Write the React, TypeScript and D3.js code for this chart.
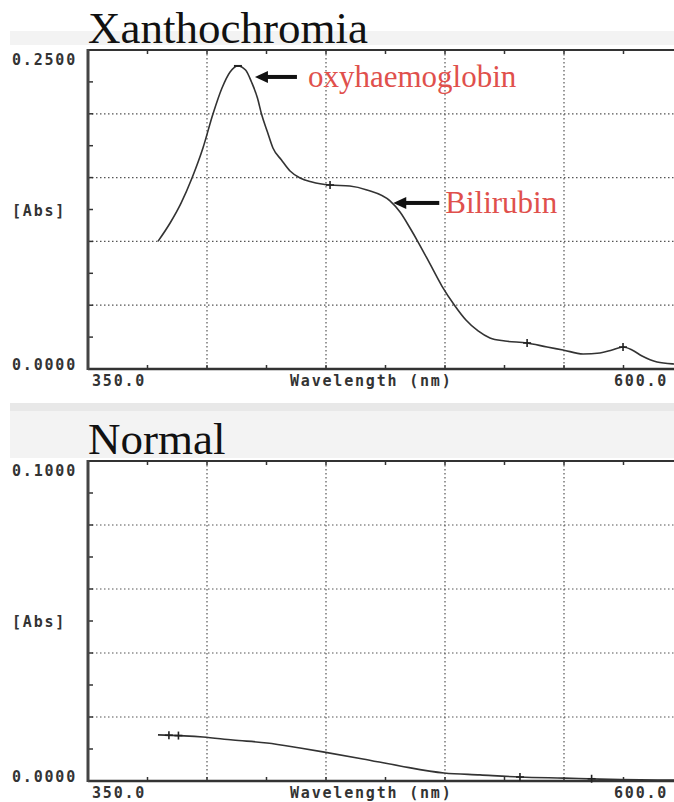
import React from "react";
import * as d3 from "d3";

// ---- data ----
const xanthWavelength = [379.4, 384.5, 389.1, 393.7, 398.3, 402.5, 406.3, 409.7, 413, 416.2, 418.7, 421.2, 422.9, 425.4, 427.7, 431.3, 434.9, 439.1, 444.1, 451.7, 460, 467.2, 476.9, 481.1, 485.3, 488.7, 493.7, 498.7, 504.2, 508.8, 513.9, 518.9, 525.2, 534.5, 542.9, 549.6, 558, 565.1, 570.2, 574.8, 578.6, 582.8, 589.1, 596.2, 600];
const xanthAbs = [0.1, 0.1144, 0.13, 0.1497, 0.1732, 0.1998, 0.2202, 0.2328, 0.2375, 0.2343, 0.2249, 0.2124, 0.1998, 0.1857, 0.1732, 0.1638, 0.1552, 0.1497, 0.1466, 0.1442, 0.1434, 0.1403, 0.1317, 0.123, 0.1105, 0.0995, 0.0823, 0.065, 0.0494, 0.0384, 0.0298, 0.0243, 0.0219, 0.0204, 0.0172, 0.0149, 0.0118, 0.0125, 0.0149, 0.0172, 0.0149, 0.0102, 0.0055, 0.0039, 0.0036];
const xanthMarkWl = [451.7, 534.5, 574.8];
const xanthMarkAbs = [0.1442, 0.0204, 0.0172];

const normalWavelength = [379.4, 398.3, 410.9, 425.2, 439.1, 448.7, 465.5, 481.1, 499.6, 514.7, 531.5, 550, 565.1, 596.2, 600];
const normalAbs = [0.0144, 0.01375, 0.0128, 0.0119, 0.0103, 0.0091, 0.0069, 0.0047, 0.0025, 0.0019, 0.00125, 0.0009, 0.0006, 0.0003, 0.0003];
const normalMarkWl = [384, 388, 531.5, 561.6];
const normalMarkAbs = [0.0143, 0.0142, 0.00125, 0.0007];

const xDomain = [350, 600];
const xTickLabels = ["350.0", "600.0"];
const xTitle = "Wavelength (nm)";
const yTitle = "[Abs]";
const topYDomain = [0, 0.25];
const topYLabels = ["0.0000", "0.2500"];
const botYDomain = [0, 0.1];
const botYLabels = ["0.0000", "0.1000"];
const titles = ["Xanthochromia", "Normal"];
const annotations = ["oxyhaemoglobin", "Bilirubin"];
const annotationWl = [413, 477];
const annotationAbs = [0.2375, 0.1317];

const MONO = "'DejaVu Sans Mono', monospace";
const SERIF = "'Liberation Serif', 'Times New Roman', serif";

function Panel({ top, bottom, yDomain, yLabels, wl, abs, markWl, markAbs, title, children }: any) {
  const x = d3.scaleLinear().domain(xDomain).range([88, 683]);
  const y = d3.scaleLinear().domain(yDomain).range([bottom, top]);
  const xGrid = d3.range(400, 600, 50);
  const xMinor = d3.range(350, 601, 25);
  const step = (yDomain[1] - yDomain[0]) / 5;
  const yGrid = d3.range(1, 5).map((i) => yDomain[0] + i * step);
  const yMinor = d3.range(0, 11).map((i) => yDomain[0] + (i * step) / 2);
  const line = d3
    .line<number>()
    .x((_, i) => x(wl[i]))
    .y((d) => y(d))
    .curve(d3.curveMonotoneX);
  const lblStyle: any = { fontFamily: MONO, fontWeight: "bold", fontSize: 15, letterSpacing: 1.8, fill: "#333" };
  return (
    <g>
      <text x={88} y={top - 7} fontFamily={SERIF} fontSize={45} fill="#111">{title}</text>
      {xGrid.map((v: number) => (
        <line key={"gx" + v} x1={x(v)} x2={x(v)} y1={top} y2={bottom} stroke="#555" strokeWidth={1.2} strokeDasharray="1.5 2.5" />
      ))}
      {yGrid.map((v: number) => (
        <line key={"gy" + v} x1={88} x2={674} y1={y(v)} y2={y(v)} stroke="#555" strokeWidth={1.2} strokeDasharray="1.5 2.5" />
      ))}
      {xMinor.map((v: number) => (
        <g key={"tx" + v}>
          <line x1={x(v)} x2={x(v)} y1={bottom} y2={bottom - 4} stroke="#333" strokeWidth={1.5} />
          <line x1={x(v)} x2={x(v)} y1={top} y2={top + 4} stroke="#333" strokeWidth={1.5} />
        </g>
      ))}
      {yMinor.map((v: number) => (
        <line key={"ty" + v} x1={88} x2={93} y1={y(v)} y2={y(v)} stroke="#333" strokeWidth={1.5} />
      ))}
      <line x1={88} x2={674} y1={top} y2={top} stroke="#333" strokeWidth={2} />
      <line x1={88} x2={674} y1={bottom} y2={bottom} stroke="#333" strokeWidth={2.5} />
      <line x1={88} x2={88} y1={top - 1} y2={bottom + 1} stroke="#444" strokeWidth={3} />
      <path d={line(abs) || ""} fill="none" stroke="#333" strokeWidth={1.6} />
      {markWl.map((w: number, i: number) => (
        <g key={"m" + i} stroke="#222" strokeWidth={1.6}>
          <line x1={x(w) - 4} x2={x(w) + 4} y1={y(markAbs[i])} y2={y(markAbs[i])} />
          <line x1={x(w)} x2={x(w)} y1={y(markAbs[i]) - 4} y2={y(markAbs[i]) + 4} />
        </g>
      ))}
      <text x={12} y={top + 15} style={lblStyle}>{yLabels[1]}</text>
      <text x={12} y={(top + bottom) / 2 + 6} style={lblStyle}>{yTitle}</text>
      <text x={12} y={bottom + 1} style={lblStyle}>{yLabels[0]}</text>
      <text x={92} y={bottom + 17} style={lblStyle}>{xTickLabels[0]}</text>
      <text x={290} y={bottom + 17} style={lblStyle}>{xTitle}</text>
      <text x={614} y={bottom + 17} style={lblStyle}>{xTickLabels[1]}</text>
      {children && children(x, y)}
    </g>
  );
}

function Arrow({ tipX, tipY, len }: any) {
  const head = 13;
  return (
    <g fill="#111">
      <path d={`M${tipX},${tipY} L${tipX + head},${tipY - 6} L${tipX + head},${tipY + 6} Z`} />
      <rect x={tipX + head - 1} y={tipY - 2} width={len - head + 1} height={4} />
    </g>
  );
}

export default function App() {
  return (
    <svg width={674} height={802} style={{ position: "absolute", left: 0, top: 0, background: "#fff" }}>
      <rect x={0} y={0} width={674} height={802} fill="#fff" />
      <rect x={10} y={31} width={664} height={14} fill="#f3f3f3" />
      <rect x={10} y={403} width={664} height={8} fill="#e8e8e8" />
      <rect x={10} y={411} width={664} height={47} fill="#f3f3f3" />
      <Panel top={50} bottom={369} yDomain={topYDomain} yLabels={topYLabels} wl={xanthWavelength} abs={xanthAbs} markWl={xanthMarkWl} markAbs={xanthMarkAbs} title={titles[0]}>
        {(x: any, y: any) => (
          <g>
            <line x1={x(annotationWl[0]) - 4} x2={x(annotationWl[0]) + 4} y1={y(annotationAbs[0])} y2={y(annotationAbs[0])} stroke="#222" strokeWidth={2} />
            <Arrow tipX={x(annotationWl[0]) + 17} tipY={y(annotationAbs[0]) + 11} len={42} />
            <text x={x(annotationWl[0]) + 70} y={y(annotationAbs[0]) + 21} fontFamily={SERIF} fontSize={31} fill="#e0504c">{annotations[0]}</text>
            <Arrow tipX={x(annotationWl[1]) + 3} tipY={y(annotationAbs[1]) + 2} len={46} />
            <text x={x(annotationWl[1]) + 55} y={y(annotationAbs[1]) + 12} fontFamily={SERIF} fontSize={31} fill="#e0504c">{annotations[1]}</text>
          </g>
        )}
      </Panel>
      <Panel top={461} bottom={781} yDomain={botYDomain} yLabels={botYLabels} wl={normalWavelength} abs={normalAbs} markWl={normalMarkWl} markAbs={normalMarkAbs} title={titles[1]} />
    </svg>
  );
}
